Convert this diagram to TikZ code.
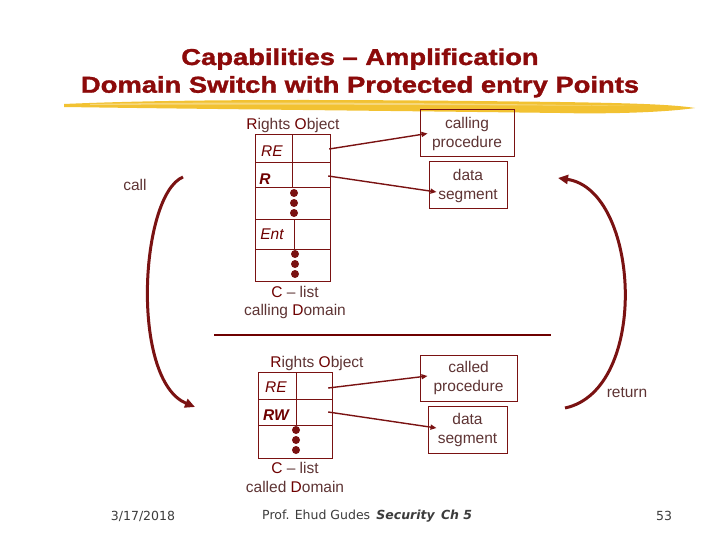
\documentclass[tikz,border=0pt]{standalone}
\usepackage{fontspec}
\setmainfont{Liberation Sans}
\newfontfamily\titlefont{Liberation Sans}[BoldFeatures={FakeBold=1.3}]
\newfontfamily\footfont{DejaVu Sans}
\usepackage{xcolor}
\usepackage{graphicx}
\usetikzlibrary{arrows.meta,calc}
\definecolor{titlered}{HTML}{8C0A0A}
\definecolor{linered}{HTML}{7A1212}
\definecolor{txtbrown}{HTML}{5E3434}
\definecolor{darkred}{HTML}{6E0000}
\definecolor{brushyel}{HTML}{F2C232}
\definecolor{footgray}{HTML}{3C3C3C}

\begin{document}
\begin{tikzpicture}[x=1pt, y=-1pt,
		headline/.style={font=\titlefont\fontsize{23}{29}\selectfont\bfseries, text=titlered,
				anchor=base, inner sep=0pt},
		lbl/.style={font=\fontsize{15.5}{19}\selectfont, text=txtbrown, inner sep=0pt},
		rkey/.style={font=\fontsize{15.5}{19}\selectfont\itshape, text=darkred, inner sep=0pt},
		rkeyb/.style={font=\fontsize{15.5}{19}\selectfont\bfseries\itshape, text=darkred, inner sep=0pt},
		seg/.style={draw=linered, line width=1pt, align=center, inner sep=0pt,
				font=\fontsize{15.5}{19}\selectfont, text=txtbrown},
		slot/.style={inner sep=0pt, minimum width=36pt, minimum height=24pt},
		cell/.style={draw=linered, line width=1pt},
		bullet/.style={fill=linered, circle, inner sep=0pt, minimum size=8pt},
		ptr/.style={-{Triangle[length=6pt,width=5pt]}, draw=linered, line width=1.4pt},
		swing/.style={-{Triangle[length=10pt,width=9pt]}, draw=linered, line width=3pt},
		foot/.style={font=\footfont\fontsize{12.5}{14}\selectfont, text=footgray, inner sep=0pt}]

		\fill[white] (0,0) rectangle (720,540);
		\useasboundingbox (0,0) rectangle (720,540);

		% ── Title ──
		\node[headline] (head1) at (360,65) {\scalebox{1.19}[1]{Capabilities – Amplification}};
		\node[headline] (head2) at (360,92.7) {\scalebox{1.19}[1]{Domain Switch with Protected entry Points}};
		\fill[brushyel] (64,104) .. controls (200,98) and (400,100) .. (560,102)
			.. controls (620,103) and (670,104) .. (695,108)
			.. controls (660,113) and (600,114) .. (560,113)
			.. controls (400,111) and (200,109) .. (64,107) -- cycle;
		\fill[brushyel!55!white, opacity=.8] (90,104) .. controls (250,101) and (450,103) .. (640,106)
			.. controls (450,105) and (250,104) .. (90,105) -- cycle;

		% ── C-list of the calling domain ──
		\node[lbl] (rights1) at (293,125) {{\color{darkred}R}ights {\color{darkred}O}bject};
		\draw[cell] (255,135) rectangle (330,281);
		\foreach \y in {163,188,220,249}
			\draw[cell] (255,\y) -- (330,\y);
		\draw[cell] (292,135) -- (292,188) (294,220) -- (294,249);
		\node[rkey] (re1) at (272,151) {RE};
		\node[rkeyb] (r1) at (265,179) {R};
		\node[rkey] (ent1) at (272,234) {Ent};
		\foreach \y in {193,203,213}
			\node[bullet] (dotA\y) at (294,\y) {};
		\foreach \y in {254,264,274}
			\node[bullet] (dotB\y) at (295,\y) {};
		\node[slot] (slotRE1) at (311,149) {};
		\node[slot] (slotR1) at (310,176) {};
		\node[lbl] (clist1) at (295,292) {{\color{darkred}C} – list};
		\node[lbl] (dom1) at (295,311) {calling {\color{darkred}D}omain};

		% ── Segments of the calling domain ──
		\node[seg, minimum width=94pt, minimum height=47pt] (callproc) at (467,133.5) {calling\\procedure};
		\node[seg, minimum width=78pt, minimum height=47pt] (dataseg1) at (468,185.5) {data\\segment};
		\draw[ptr] (slotRE1.east) -- ([xshift=8pt]callproc.west);
		\draw[ptr] (slotR1.east) -- ([xshift=8pt,yshift=-6.5pt]dataseg1.west);

		% ── Domain boundary ──
		\coordinate (sepL) at (214,335);
		\coordinate (sepR) at (551,335);
		\draw[darkred, line width=1.6pt] (sepL) -- (sepR);

		% ── C-list of the called domain ──
		\node[lbl] (rights2) at (317,363) {{\color{darkred}R}ights {\color{darkred}O}bject};
		\draw[cell] (258,372) rectangle (332,458);
		\foreach \y in {399,425}
			\draw[cell] (258,\y) -- (332,\y);
		\draw[cell] (296,372) -- (296,425);
		\node[rkey] (re2) at (276,387) {RE};
		\node[rkeyb] (rw2) at (276,415) {RW};
		\foreach \y in {430,440,450}
			\node[bullet] (dotC\y) at (296,\y) {};
		\node[slot] (slotRE2) at (310,388) {};
		\node[slot] (slotRW2) at (310,412) {};
		\node[lbl] (clist2) at (295,468) {{\color{darkred}C} – list};
		\node[lbl] (dom2) at (295,487) {called {\color{darkred}D}omain};

		% ── Segments of the called domain ──
		\node[seg, minimum width=97pt, minimum height=46pt] (calledproc) at (468.5,378) {called\\procedure};
		\node[seg, minimum width=79pt, minimum height=47pt] (dataseg2) at (467.5,429.5) {data\\segment};
		\draw[ptr] (slotRE2.east) -- ([xshift=8pt,yshift=2pt]calledproc.west);
		\draw[ptr] (slotRW2.east) -- ([xshift=9pt,yshift=1.5pt]dataseg2.west);

		% ── call and return ──
		\coordinate (callfrom) at (183,177);
		\coordinate (callto) at (195,407);
		\draw[swing] (callfrom) .. controls (140,195) and (130,380) .. (callto);
		\node[lbl] (calltxt) at (135,185) {call};
		\coordinate (retfrom) at (565,408);
		\coordinate (retto) at (558,178);
		\draw[swing] (retfrom) .. controls (650,390) and (640,190) .. (retto);
		\node[lbl] (rettxt) at (627,393) {return};

		% ── Footer ──
		\node[foot] (date) at (143,516) {3/17/2018};
		\node[foot, anchor=west] (author) at (262,516) {Prof. Ehud Gudes\enspace{\bfseries\itshape Security\enspace Ch 5}};
		\node[foot] (page) at (664,516) {53};

	\end{tikzpicture}
\end{document}
